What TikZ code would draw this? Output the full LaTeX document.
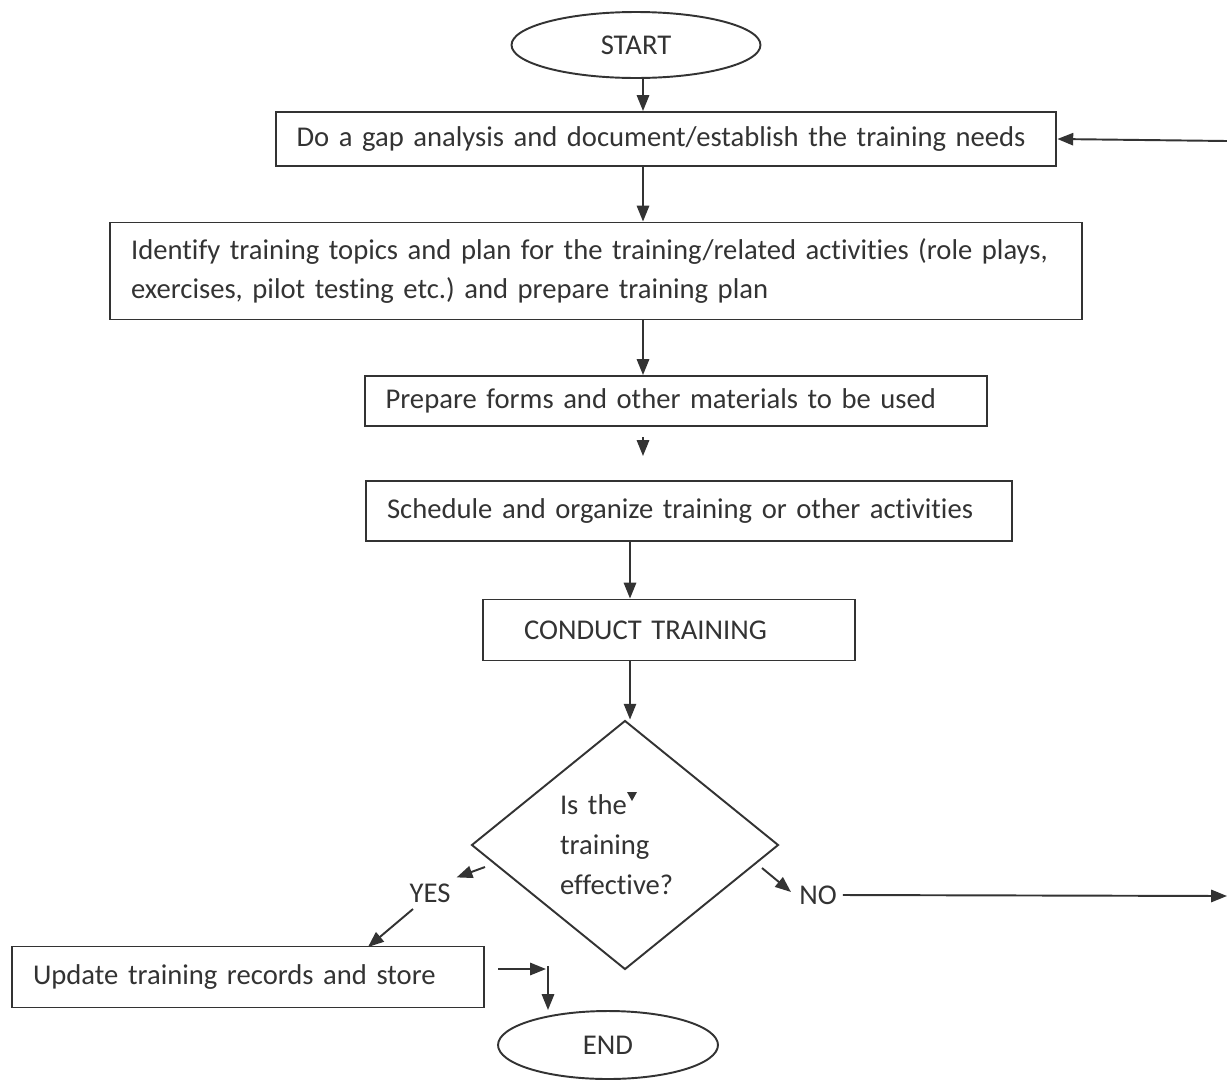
\documentclass[tikz,border=0pt]{standalone}
\usepackage{fontspec}
\setmainfont{Carlito}[Ligatures=NoCommon]
\usetikzlibrary{shapes.geometric,arrows.meta}
\definecolor{tinta}{HTML}{333333}
\frenchspacing

\begin{document}
\begin{tikzpicture}[x=0.02cm,y=-0.02cm,
    every node/.style={text=tinta,font=\fontsize{16.3}{22.7}\selectfont},
    caja/.style={draw=tinta,line width=1.1pt,align=left,inner xsep=0.42cm,inner ysep=0pt},
    termino/.style={draw=tinta,line width=1.1pt,ellipse,inner sep=0pt},
    flecha/.style={draw=tinta,line width=1.1pt,-{Triangle[length=9pt,width=7pt]}}]
    \useasboundingbox (0,0) rectangle (1227,1079);
    % columnas de las flechas
    \coordinate (colA) at (643,0);
    \coordinate (colB) at (630,0);
    % nodos
    \node[termino,minimum width=4.98cm,minimum height=1.32cm] (inicio) at (636,45) {START};
    \node[caja,text width=14.78cm,minimum height=1.08cm] (brecha) at (666,139)
      {Do a gap analysis and document/establish the training needs};
    \node[caja,text width=18.6cm,minimum height=1.94cm] (plan) at (596,271)
      {Identify training topics and plan for the training/related activities (role plays,\\
       exercises, pilot testing etc.) and prepare training plan};
    \node[caja,text width=11.62cm,minimum height=1.0cm] (formas) at (676,401)
      {Prepare forms and other materials to be used};
    \node[caja,text width=12.08cm,minimum height=1.2cm] (agenda) at (689,511)
      {Schedule and organize training or other activities};
    \node[caja,inner xsep=0.82cm,text width=5.8cm,minimum height=1.22cm] (curso) at (669,630)
      {CONDUCT TRAINING};
    \node[draw=tinta,line width=1.1pt,diamond,align=left,text width=2.6cm,inner sep=0pt,
      minimum width=6.14cm,minimum height=4.98cm] (prueba) at (625,845)
      {Is the\\ training\\ effective?};
    \fill[tinta] (627,792) -- (637,792) -- (632,801) -- cycle;
    \node (si) at (430,893) {YES};
    \node (no) at (818,895) {NO};
    \node[caja,text width=8.6cm,minimum height=1.22cm] (registro) at (248,977)
      {Update training records and store};
    \node[termino,minimum width=4.4cm,minimum height=1.36cm] (fin) at (608,1045) {END};
    % extremos libres
    \coordinate (corteA) at (643,437);
    \coordinate (corteB) at (643,456);
    \coordinate (siA) at (485,867);
    \coordinate (siB) at (413,909);
    \coordinate (siC) at (368,947);
    \coordinate (noA) at (762,868);
    \coordinate (noB) at (791,892);
    \coordinate (bordeNo) at (1227,896);
    \coordinate (bordeSup) at (1227,141);
    \coordinate (finA) at (498,969);
    \coordinate (finB) at (546,969);
    \coordinate (finC) at (548,966);
    % flechas
    \draw[flecha] (inicio.south -| colA) -- (brecha.north -| colA);
    \draw[flecha] (brecha.south -| colA) -- (plan.north -| colA);
    \draw[flecha] (plan.south -| colA) -- (formas.north -| colA);
    \draw[flecha] (corteA) -- (corteB);
    \draw[flecha] (agenda.south -| colB) -- (curso.north -| colB);
    \draw[flecha] (curso.south -| colB) -- (prueba.north -| colB);
    \draw[flecha] (siA) -- (si.north east);
    \draw[flecha] (siB) -- (siC);
    \draw[flecha] (noA) -- (noB);
    \draw[flecha] (no.east) -- (bordeNo);
    \draw[flecha] (bordeSup) -- (brecha.east);
    \draw[flecha] (finA) -- (finB);
    \draw[flecha] (finC) -- (finC |- fin.north);
\end{tikzpicture}
\end{document}
